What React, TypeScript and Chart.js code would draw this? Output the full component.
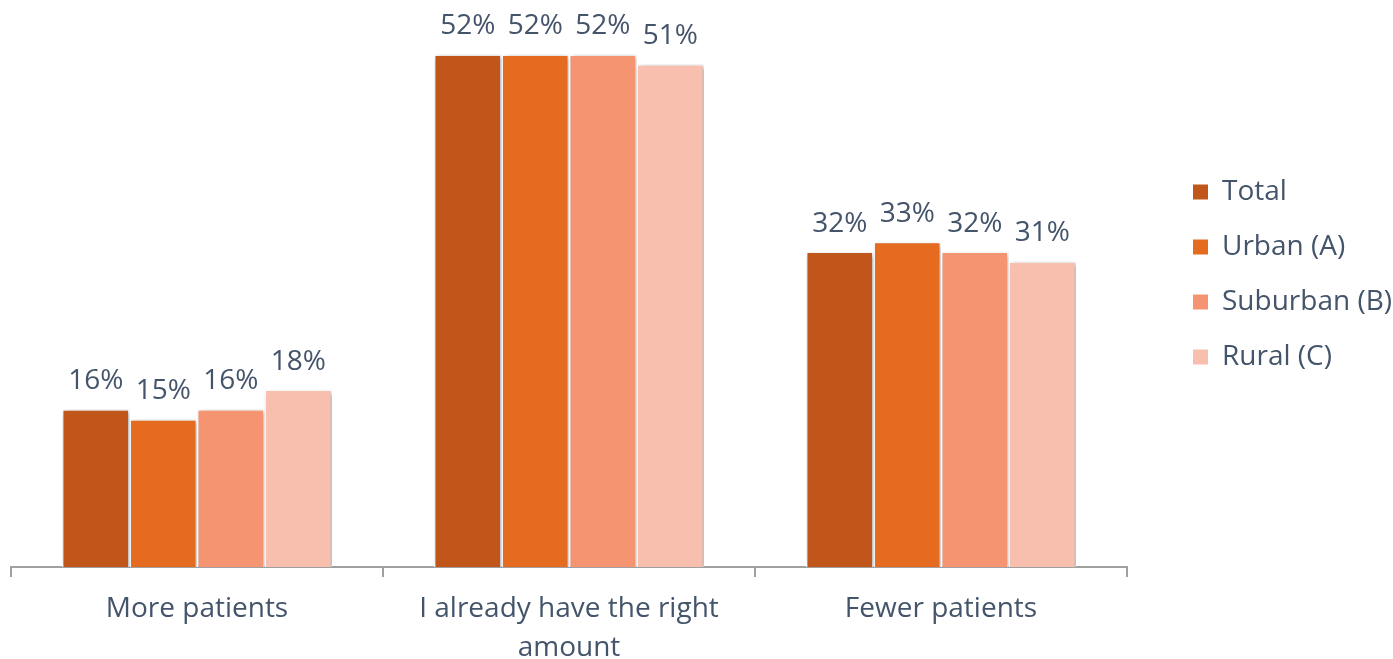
import React, { useEffect, useRef } from "react";
import { Chart, registerables } from "chart.js";

Chart.register(...registerables);

const categories: (string | string[])[] = [
  "More patients",
  ["I already have the right", "amount"],
  "Fewer patients",
];
const seriesNames = ["Total", "Urban (A)", "Suburban (B)", "Rural (C)"];
const totalValues = [16, 52, 32];
const urbanValues = [15, 52, 33];
const suburbanValues = [16, 52, 32];
const ruralValues = [18, 51, 31];
const seriesColors = ["#C0561A", "#E56B21", "#F59470", "#F8BFAE"];

const TEXT = "#44546A";
const FONT = "'Open Sans', 'Noto Sans', sans-serif";

const valueLabels = {
  id: "valueLabels",
  afterDatasetsDraw(chart: any) {
    const ctx = chart.ctx;
    ctx.save();
    ctx.fillStyle = TEXT;
    ctx.font = `28px ${FONT}`;
    ctx.textAlign = "center";
    ctx.textBaseline = "alphabetic";
    chart.data.datasets.forEach((ds: any, di: number) => {
      const meta = chart.getDatasetMeta(di);
      meta.data.forEach((el: any, i: number) => {
        ctx.fillText(`${ds.data[i]}%`, el.x, el.y - 20);
      });
    });
    ctx.restore();
  },
};

const barShadow = {
  id: "barShadow",
  beforeDatasetsDraw(chart: any) {
    const ctx = chart.ctx;
    ctx.save();
    ctx.shadowColor = "rgba(0,0,0,0.32)";
    ctx.shadowBlur = 5;
    ctx.shadowOffsetX = 2;
    ctx.shadowOffsetY = 1.5;
  },
  afterDatasetsDraw(chart: any) {
    chart.ctx.restore();
  },
};

const legendPlace = {
  id: "legendPlace",
  afterLayout(chart: any) {
    const lg = chart.legend;
    if (!lg) return;
    const w = lg.width;
    lg.left = chart.chartArea.right + 39;
    lg.right = lg.left + w;
    lg.top = 0;
    lg.bottom = 549;
    lg.height = 549;
  },
};

export default function App() {
  const ref = useRef<HTMLCanvasElement | null>(null);
  useEffect(() => {
    if (!ref.current) return;
    const datasets = [totalValues, urbanValues, suburbanValues, ruralValues].map((d, i) => ({
      label: seriesNames[i],
      data: d,
      backgroundColor: seriesColors[i],
      borderColor: "#FFFFFF",
      borderWidth: 1.5,
      borderSkipped: "bottom" as const,
      categoryPercentage: 0.726,
      barPercentage: 1.0,
    }));
    const chart = new Chart(ref.current, {
      type: "bar",
      data: { labels: categories, datasets },
      options: {
        animation: false,
        responsive: true,
        maintainAspectRatio: false,
        layout: { padding: { left: 11, top: 15, right: 30, bottom: 0 } },
        plugins: {
          tooltip: { enabled: false },
          legend: {
            position: "right",
            align: "center",
            labels: {
              color: TEXT,
              font: { family: FONT, size: 28 },
              boxWidth: 15,
              boxHeight: 15,
              padding: 27,
              generateLabels: (c: any) =>
                Chart.defaults.plugins.legend.labels
                  .generateLabels(c)
                  .map((it: any, i: number) => ({
                    ...it,
                    fillStyle: seriesColors[i],
                    strokeStyle: seriesColors[i],
                    lineWidth: 0,
                  })),
            },
          },
        },
        scales: {
          x: {
            offset: true,
            afterFit: (scale: any) => {
              scale.height = 92;
            },
            grid: {
              offset: true,
              drawOnChartArea: false,
              drawTicks: true,
              tickLength: 10,
              color: "#A0A0A0",
              lineWidth: 2,
            },
            border: { display: true, color: "#A0A0A0", width: 2 },
            ticks: {
              color: TEXT,
              font: { family: FONT, size: 28, lineHeight: 1.4 },
              padding: 12,
              maxRotation: 0,
              autoSkip: false,
            },
          },
          y: {
            display: false,
            min: 0,
            max: 56,
          },
        },
      },
      plugins: [barShadow, valueLabels, legendPlace],
    });
    return () => chart.destroy();
  }, []);
  return (
    <div style={{ position: "fixed", left: 0, top: 0, width: 1393, height: 659, background: "#fff" }}>
      <canvas ref={ref} />
    </div>
  );
}
